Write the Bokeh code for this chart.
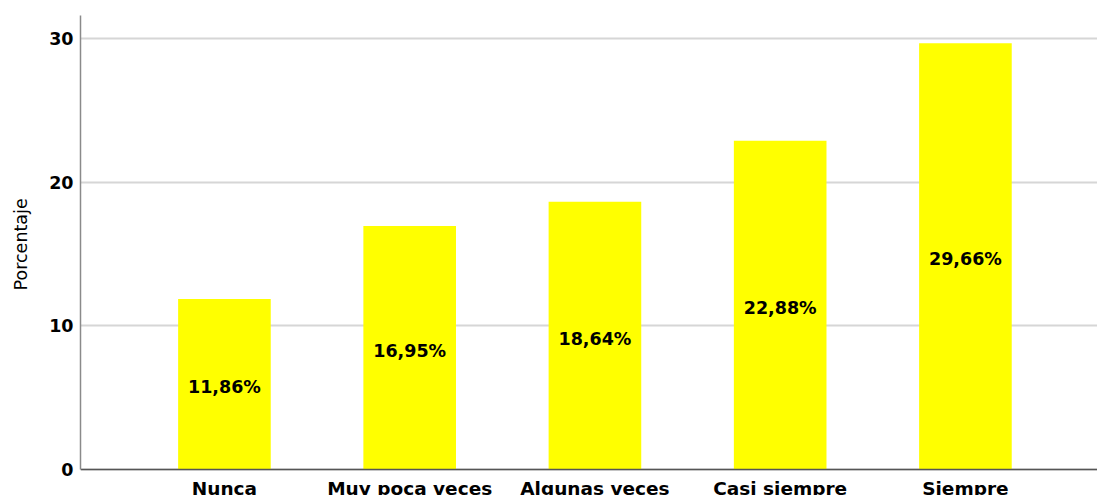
from bokeh.plotting import figure
from bokeh.models import ColumnDataSource, LabelSet, Range1d, FixedTicker
from bokeh.core.properties import value
from bokeh.embed import file_html
from bokeh.resources import INLINE

categories = ["Nunca", "Muy poca veces", "Algunas veces", "Casi siempre", "Siempre"]
percentages = [11.86, 16.95, 18.64, 22.88, 29.66]
value_labels = ["11,86%", "16,95%", "18,64%", "22,88%", "29,66%"]
y_ticks = [0, 10, 20, 30]
y_title = "Porcentaje"

xs = list(range(len(categories)))
src = ColumnDataSource(dict(
    x=xs,
    top=percentages,
    mid=[v / 2 for v in percentages],
    lab=value_labels,
))

p = figure(width=1097, height=495, output_backend="svg", toolbar_location=None,
           x_range=Range1d(-0.777, 4.713), y_range=Range1d(-1.81, 31.6),
           min_border_left=80, min_border_right=0, min_border_top=15, min_border_bottom=0)
p.outline_line_color = None
p.background_fill_color = "white"
p.border_fill_color = "white"

p.vbar(x="x", top="top", bottom=0, width=0.5, source=src,
       fill_color="#ffff00", line_color=None)

p.add_layout(LabelSet(x="x", y="mid", text="lab", source=src,
                      text_align="center", text_baseline="middle", y_offset=-3,
                      text_font=value("DejaVu Sans"), text_font_style="bold",
                      text_font_size="17.5px", text_color="#000000"))

# x axis at y = 0 with category labels
p.xaxis.fixed_location = 0
p.xaxis.ticker = FixedTicker(ticks=xs)
p.xaxis.major_label_overrides = {i: c for i, c in zip(xs, categories)}
p.xaxis.major_tick_line_color = None
p.xaxis.major_tick_out = 0
p.xaxis.major_tick_in = 0
p.xaxis.minor_tick_line_color = None
p.xaxis.axis_line_color = "#555555"
p.xaxis.axis_line_width = 1.5
p.xaxis.major_label_standoff = 9
p.xaxis.major_label_text_font = "DejaVu Sans"
p.xaxis.major_label_text_font_style = "bold"
p.xaxis.major_label_text_font_size = "18.5px"
p.xaxis.major_label_text_color = "#000000"
p.xgrid.visible = False

p.yaxis.bounds = (0, 31.6)
p.yaxis.ticker = FixedTicker(ticks=y_ticks)
p.yaxis.major_tick_line_color = None
p.yaxis.major_tick_out = 0
p.yaxis.major_tick_in = 0
p.yaxis.minor_tick_line_color = None
p.yaxis.axis_line_color = "#8a8a8a"
p.yaxis.axis_line_width = 1.5
p.yaxis.major_label_standoff = 7
p.yaxis.major_label_text_font = "DejaVu Sans"
p.yaxis.major_label_text_font_style = "bold"
p.yaxis.major_label_text_font_size = "17.5px"
p.yaxis.major_label_text_color = "#000000"
# leading no-break spaces lift the centred title to the middle of the 0-31.6 span
p.yaxis.axis_label = "\u00a0\u00a0\u00a0\u00a0" + y_title
p.yaxis.axis_label_text_font = "DejaVu Sans"
p.yaxis.axis_label_text_font_style = "normal"
p.yaxis.axis_label_text_font_size = "17.5px"
p.yaxis.axis_label_text_color = "#000000"
p.yaxis.axis_label_standoff = 15

p.ygrid.ticker = FixedTicker(ticks=y_ticks)
p.ygrid.grid_line_color = "#d6d6d6"
p.ygrid.grid_line_width = 2

open("out.html", "w").write(file_html(p, INLINE))
